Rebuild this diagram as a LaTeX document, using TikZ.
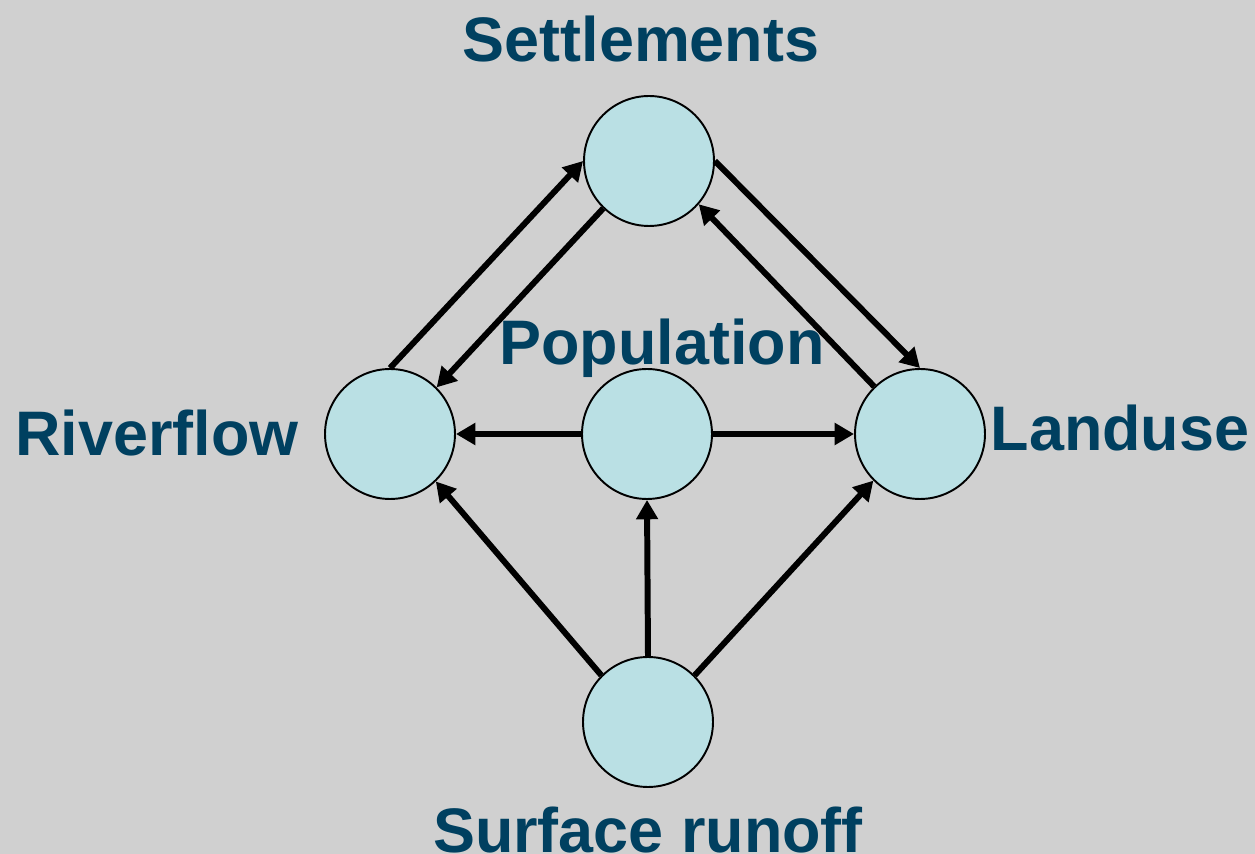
\documentclass[tikz,border=0pt]{standalone}
\usepackage{fontspec}
\setmainfont{Liberation Sans}
\usetikzlibrary{arrows.meta}

\definecolor{bggray}{RGB}{208,208,208}
\definecolor{ballfill}{RGB}{186,224,228}
\definecolor{labelblue}{RGB}{0,64,96}

\begin{document}
\begin{tikzpicture}[
    x=0.02cm,y=-0.02cm,
    ball/.style={
      circle,draw,line width=1.1pt,fill=ballfill,
      minimum size=2.6cm,inner sep=0pt
    },
    caption/.style={
      text=labelblue,anchor=base,inner sep=0pt,
      font=\fontsize{35.8}{40}\selectfont\bfseries
    },
    link/.style={
      line width=3.4pt,
      -{Triangle[length=11pt,width=12pt]}
    }]

  \fill[bggray] (0,0) rectangle (1255,854);
  \useasboundingbox (0,0) rectangle (1255,854);

  % circles
  \node[ball] (set) at (649,161) {};
  \node[ball] (riv) at (390,434) {};
  \node[ball] (pop) at (647,434) {};
  \node[ball] (lan) at (920,434) {};
  \node[ball] (sur) at (648,722) {};

  % captions
  \node[caption] (setcap) at (641,62) {Settlements};
  \node[caption] (popcap) at (662,365) {Population};
  \node[caption] (rivcap) at (157,456) {Riverflow};
  \node[caption] (lancap) at (1120,451) {Landuse};
  \node[caption] (surcap) at (648,852) {Surface runoff};

  % links
  \draw[link] (riv.north) -- (set.west);
  \draw[link] (set.226) -- (riv.45);
  \draw[link] (set.east) -- (lan.north);
  \draw[link] (lan.134) -- (set.319);
  \draw[link] (pop.west) -- (riv.east);
  \draw[link] (pop.east) -- (lan.west);
  \draw[link] (sur.135) -- (riv.314);
  \draw[link] (sur.north) -- (pop.south);
  \draw[link] (sur.45) -- (lan.225);
\end{tikzpicture}
\end{document}
